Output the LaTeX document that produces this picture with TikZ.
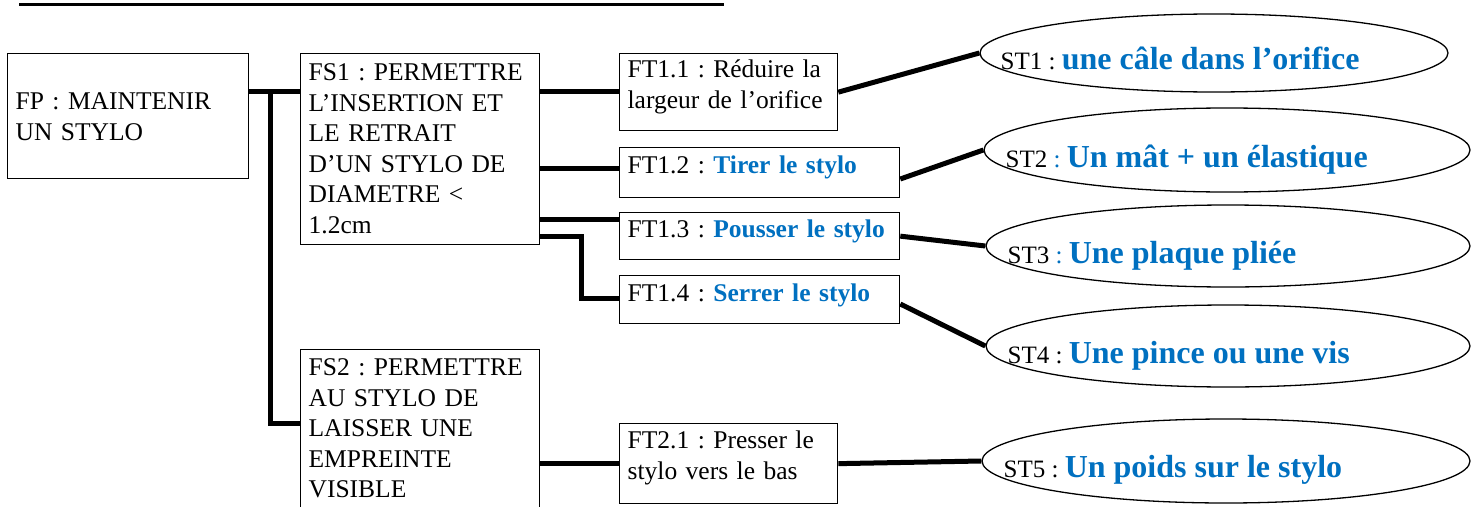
\documentclass[tikz,border=0pt]{standalone}
\usepackage{fontspec}
\setmainfont{Liberation Serif}
\usepackage{xcolor}
\usepackage{tikz}
\usetikzlibrary{shapes.geometric}
\usetikzlibrary{positioning}
\definecolor{stblue}{HTML}{0070C0}
\newcommand{\ftsol}[1]{\textcolor{stblue}{\bfseries #1}}
\newcommand{\stsol}[1]{\textcolor{stblue}{\fontsize{32}{36}\selectfont\bfseries #1}}

\begin{document}
\frenchspacing
\hyphenpenalty=10000
\begin{tikzpicture}[x=1pt,y=-1pt,line width=1.3pt]
	\tikzstyle{fct}=[draw=black, anchor=north west, inner xsep=8pt, inner ysep=0pt, align=left, font=\fontsize{25.5}{30.5}\selectfont]
	\tikzstyle{sol}=[draw=black, ellipse, inner sep=0pt]
	\tikzstyle{soltxt}=[anchor=base west, inner sep=0pt, font=\fontsize{25}{30}\selectfont]
	\tikzstyle{link}=[line width=5pt]
	\useasboundingbox (0,0) rectangle (1480,506);
	\draw[line width=3pt] (19,4.5) -- (724,4.5);

	% fonctions
	\node[fct, text width=225pt, text height=56pt, text depth=69pt] (FP) at (7,53) {FP : MAINTENIR\\UN STYLO};
	\node[fct, text width=223pt, text height=27pt, text depth=164pt] (FS1) at (300,53) {FS1 : PERMETTRE\\L’INSERTION ET\\LE RETRAIT\\D’UN STYLO DE\\DIAMETRE <\\1.2cm};
	\node[fct, text width=223pt, text height=26pt, text depth=170pt] (FS2) at (300,349) {FS2 : PERMETTRE\\AU STYLO DE\\LAISSER UNE\\EMPREINTE\\VISIBLE};
	\node[fct, text width=202pt, text height=24pt, text depth=53pt] (FT11) at (619,53) {FT1.1 : Réduire la\\largeur de l’orifice};
	\node[fct, text width=264pt, text height=26pt, text depth=24pt] (FT12) at (619,147) {FT1.2 : \ftsol{Tirer le stylo}};
	\node[fct, text width=264pt, text height=25pt, text depth=22pt] (FT13) at (619,212) {FT1.3 : \ftsol{Pousser le stylo}};
	\node[fct, text width=264pt, text height=26pt, text depth=22pt] (FT14) at (619,275) {FT1.4 : \ftsol{Serrer le stylo}};
	\node[fct, text width=202pt, text height=25pt, text depth=55pt] (FT21) at (619,423) {FT2.1 : Presser le\\stylo vers le bas};

	% solutions
	\node[sol, minimum width=468pt, minimum height=78pt] (ST1) at (1214,53) {};
	\node[sol, minimum width=486pt, minimum height=84pt] (ST2) at (1227,150) {};
	\node[sol, minimum width=484pt, minimum height=82pt] (ST3) at (1228,246) {};
	\node[sol, minimum width=484pt, minimum height=82pt] (ST4) at (1228,346) {};
	\node[sol, minimum width=488pt, minimum height=84pt] (ST5) at (1226,461) {};
	\node[soltxt] (ST1t) at (1000,69) {ST1 : \stsol{une câle dans l’orifice}};
	\node[soltxt] (ST2t) at (1005,167) {ST2 {\color{stblue}:} \stsol{Un mât + un élastique}};
	\node[soltxt] (ST3t) at (1007,263) {ST3 {\color{stblue}:} \stsol{Une plaque pliée}};
	\node[soltxt] (ST4t) at (1007,363) {ST4 : \stsol{Une pince ou une vis}};
	\node[soltxt] (ST5t) at (1003,477) {ST5 : \stsol{Un poids sur le stylo}};

	\coordinate (b1) at (270,91);
	\coordinate (b2) at (270,423);
	\coordinate (y2) at (0,168);
	\coordinate (y3) at (0,219);
	\coordinate (y4) at (0,236);
	\coordinate (k4) at (581,298);
	\coordinate (y5) at (0,179);
	\coordinate (y6) at (0,304);
	\draw[link] (FP.east |- b1) -- (FS1.west |- b1);
	\draw[link] (b1) -- (b2) -- (FS2.west |- b2);
	\draw[link] (FS1.east |- b1) -- (FT11.west |- b1);
	\draw[link] (FS1.east |- y2) -- (FT12.west |- y2);
	\draw[link] (FS1.east |- y3) -- (FT13.west |- y3);
	\draw[link] (FS1.east |- y4) -| (k4) -- (FT14.west |- k4);
	\draw[link] (FS2.east |- FT21.west) -- (FT21.west);
	\draw[link] (FT11.east) -- (ST1.west);
	\draw[link] (FT12.east |- y5) -- (ST2.west);
	\draw[link] (FT13.east) -- (ST3.west);
	\draw[link] (FT14.east |- y6) -- (ST4.west);
	\draw[link] (FT21.east) -- (ST5.west);
\end{tikzpicture}
\end{document}
